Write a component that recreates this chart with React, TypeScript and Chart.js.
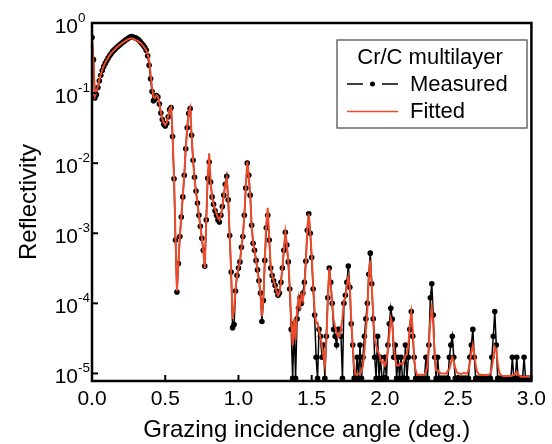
import React, { useEffect, useRef } from 'react';
import { Chart, registerables } from 'chart.js';

Chart.register(...registerables);

// Grazing incidence angle grid (deg.)
const ANGLE_START = 0;
const ANGLE_STEP = 0.01;

// Measured reflectivity, one value per 0.01 deg from 0.00 to 3.00
const MEASURED: number[] = [
  0.62, 0.30, 0.085, 0.095, 0.12, 0.15, 0.18, 0.21, 0.24, 0.265,
  0.29, 0.315, 0.34, 0.365, 0.39, 0.41, 0.43, 0.45, 0.47, 0.49,
  0.51, 0.53, 0.55, 0.57, 0.59, 0.61, 0.63, 0.64, 0.63, 0.62,
  0.61, 0.59, 0.57, 0.54, 0.51, 0.48, 0.45, 0.41, 0.34, 0.25,
  0.16, 0.105, 0.078, 0.082, 0.092, 0.088, 0.07, 0.052, 0.042, 0.036,
  0.034, 0.037, 0.046, 0.058, 0.062, 0.024, 6.0e-3, 8.0e-4, 1.45e-4, 3.7e-4,
  9.0e-4, 1.7e-3, 3.3e-3, 6.7e-3, 0.016, 0.032, 0.051, 0.060, 0.025, 0.011,
  6.3e-3, 4.0e-3, 2.7e-3, 1.8e-3, 1.26e-3, 8.5e-4, 5.7e-4, 3.4e-4, 1.55e-3, 6.1e-3,
  0.0104, 5.4e-3, 3.3e-3, 2.6e-3, 2.1e-3, 1.8e-3, 1.55e-3, 1.45e-3, 1.8e-3, 2.4e-3,
  3.5e-3, 5.0e-3, 6.5e-3, 3.0e-3, 9.3e-4, 2.8e-4, 4.5e-5, 5.0e-5, 1.5e-4, 2.5e-4,
  3.2e-4, 3.9e-4, 6.3e-4, 9.0e-4, 1.8e-3, 4.4e-3, 0.0100, 6.7e-3, 3.5e-3, 1.3e-3,
  7.2e-4, 5.7e-4, 4.1e-4, 3.0e-4, 2.1e-4, 1.4e-4, 5.5e-5, 1.1e-4, 4.1e-4, 1.2e-3,
  1.8e-3, 8.0e-4, 3.2e-4, 2.5e-4, 2.1e-4, 1.8e-4, 1.5e-4, 1.3e-4, 1.4e-4, 2.0e-4,
  3.2e-4, 5.7e-4, 1.03e-3, 6.8e-4, 3.9e-4, 1.6e-4, 4.25e-5, 8.5e-6, 5.1e-5, 8.5e-6,
  6.0e-5, 8.5e-5, 1.2e-4, 1.0e-4, 1.4e-4, 2.0e-4, 4.0e-4, 1.1e-3, 1.9e-3, 1.0e-3,
  4.5e-4, 1.6e-4, 6.8e-5, 1.7e-5, 8.5e-6, 4.25e-5, 3.4e-5, 1.7e-5, 2.55e-5, 8.5e-6,
  3.4e-5, 1.2e-4, 3.2e-4, 2.0e-4, 1.0e-4, 4.25e-5, 3.4e-5, 2.55e-5, 4.25e-5, 4.25e-5,
  3.4e-5, 8.5e-6, 1.0e-4, 1.3e-4, 2.0e-4, 3.4e-4, 1.7e-4, 5.1e-5, 2.55e-5, 8.5e-6,
  8.5e-6, 1.7e-5, 8.5e-6, 2.55e-5, 8.5e-6, 1.7e-5, 3.4e-5, 6.0e-5, 1.0e-4, 2.6e-4,
  5.2e-4, 1.9e-4, 6.0e-5, 1.7e-5, 8.5e-6, 3.4e-5, 8.5e-6, 1.7e-5, 8.5e-6, 8.5e-6,
  1.7e-5, 8.5e-6, 2.55e-5, 5.1e-5, 8.5e-5, 5.95e-5, 1.7e-5, 2.55e-5, 8.5e-6, 1.7e-5,
  8.5e-6, 1.7e-5, 8.5e-6, 8.5e-6, 2.55e-5, 8.5e-6, 1.7e-5, 4.25e-5, 7.65e-5, 3.4e-5,
  1.7e-5, 8.5e-6, 8.5e-6, 8.5e-6, 8.5e-6, 8.5e-6, 8.5e-6, 8.5e-6, 1.7e-5, 8.5e-6,
  2.55e-5, 1.2e-4, 1.9e-4, 6.8e-5, 1.7e-5, 8.5e-6, 1.7e-5, 8.5e-6, 8.5e-6, 8.5e-6,
  8.5e-6, 8.5e-6, 8.5e-6, 8.5e-6, 1.7e-5, 2.55e-5, 3.4e-5, 1.7e-5, 8.5e-6, 8.5e-6,
  8.5e-6, 8.5e-6, 8.5e-6, 8.5e-6, 8.5e-6, 8.5e-6, 8.5e-6, 8.5e-6, 1.7e-5, 2.55e-5,
  4.25e-5, 1.7e-5, 8.5e-6, 8.5e-6, 8.5e-6, 8.5e-6, 8.5e-6, 8.5e-6, 8.5e-6, 8.5e-6,
  8.5e-6, 8.5e-6, 8.5e-6, 1.7e-5, 3.4e-5, 7.65e-5, 2.55e-5, 8.5e-6, 8.5e-6, 8.5e-6,
  8.5e-6, 8.5e-6, 8.5e-6, 8.5e-6, 8.5e-6, 8.5e-6, 8.5e-6, 1.7e-5, 8.5e-6, 8.5e-6,
  1.7e-5, 8.5e-6, 8.5e-6, 8.5e-6, 8.5e-6, 1.7e-5, 8.5e-6, 8.5e-6, 8.5e-6, 8.5e-6,
  8.5e-6,
];

// Fitted reflectivity, same angle grid
const FITTED: number[] = [
  0.62, 0.28, 0.09, 0.10, 0.125, 0.155, 0.185, 0.215, 0.245, 0.27,
  0.295, 0.32, 0.345, 0.37, 0.39, 0.41, 0.43, 0.45, 0.47, 0.49,
  0.505, 0.525, 0.54, 0.56, 0.575, 0.59, 0.60, 0.60, 0.595, 0.585,
  0.57, 0.56, 0.54, 0.52, 0.50, 0.47, 0.44, 0.41, 0.36, 0.29,
  0.19, 0.12, 0.088, 0.085, 0.093, 0.090, 0.072, 0.054, 0.043, 0.037,
  0.035, 0.038, 0.047, 0.059, 0.063, 0.026, 6.5e-3, 9.0e-4, 1.5e-4, 3.8e-4,
  9.5e-4, 1.8e-3, 3.4e-3, 6.9e-3, 0.016, 0.033, 0.053, 0.062, 0.026, 0.011,
  6.0e-3, 3.9e-3, 2.7e-3, 1.8e-3, 1.25e-3, 8.5e-4, 5.5e-4, 3.2e-4, 1.5e-3, 6.3e-3,
  0.0138, 5.6e-3, 3.2e-3, 2.6e-3, 2.2e-3, 1.9e-3, 1.65e-3, 1.55e-3, 1.8e-3, 2.4e-3,
  3.5e-3, 5.0e-3, 6.1e-3, 3.0e-3, 9.5e-4, 2.9e-4, 6.0e-5, 8.0e-5, 1.6e-4, 2.5e-4,
  3.2e-4, 3.9e-4, 6.2e-4, 9.0e-4, 1.8e-3, 4.5e-3, 0.0105, 6.9e-3, 3.5e-3, 1.3e-3,
  7.2e-4, 5.6e-4, 4.1e-4, 3.0e-4, 2.1e-4, 1.4e-4, 6.5e-5, 1.2e-4, 4.3e-4, 1.4e-3,
  2.3e-3, 8.5e-4, 3.3e-4, 2.5e-4, 2.1e-4, 1.8e-4, 1.5e-4, 1.3e-4, 1.4e-4, 2.0e-4,
  3.2e-4, 5.8e-4, 1.03e-3, 7.0e-4, 3.9e-4, 1.8e-4, 6.0e-5, 2.5e-5, 6.0e-5, 3.0e-5,
  8.0e-5, 1.2e-4, 9.0e-5, 1.3e-4, 1.1e-4, 1.6e-4, 3.9e-4, 1.2e-3, 1.9e-3, 1.03e-3,
  4.9e-4, 1.8e-4, 8.0e-5, 5.2e-5, 5.3e-5, 4.1e-5, 3.2e-5, 2.5e-5, 1.8e-5, 1.3e-5,
  3.0e-5, 1.1e-4, 3.2e-4, 1.8e-4, 9.5e-5, 5.8e-5, 4.6e-5, 3.9e-5, 3.3e-5, 3.4e-5,
  4.4e-5, 6.1e-5, 1.1e-4, 1.2e-4, 1.8e-4, 2.4e-4, 1.8e-4, 5.8e-5, 2.5e-5, 1.2e-5,
  9.6e-6, 9.5e-6, 1.0e-5, 1.0e-5, 1.05e-5, 1.3e-5, 2.1e-5, 4.1e-5, 8.0e-5, 2.5e-4,
  4.1e-4, 1.8e-4, 6.7e-5, 3.0e-5, 2.5e-5, 2.1e-5, 1.9e-5, 1.6e-5, 1.4e-5, 1.5e-5,
  1.3e-5, 1.5e-5, 2.1e-5, 3.6e-5, 6.0e-5, 5.0e-5, 2.5e-5, 1.6e-5, 1.3e-5, 1.3e-5,
  1.35e-5, 1.4e-5, 1.35e-5, 1.5e-5, 1.8e-5, 1.9e-5, 2.5e-5, 4.9e-5, 7.3e-5, 4.1e-5,
  1.5e-5, 1.1e-5, 9.6e-6, 9.6e-6, 9.6e-6, 9.6e-6, 9.6e-6, 9.6e-6, 1.05e-5, 1.3e-5,
  2.5e-5, 5.8e-5, 8.6e-5, 4.9e-5, 1.8e-5, 1.1e-5, 1.1e-5, 1.05e-5, 1.0e-5, 1.0e-5,
  1.0e-5, 1.0e-5, 1.0e-5, 1.1e-5, 1.15e-5, 1.4e-5, 1.7e-5, 1.5e-5, 1.2e-5, 1.05e-5,
  1.0e-5, 1.0e-5, 9.8e-6, 1.0e-5, 1.02e-5, 1.0e-5, 1.0e-5, 1.1e-5, 1.4e-5, 2.0e-5,
  2.5e-5, 1.9e-5, 1.3e-5, 1.05e-5, 9.8e-6, 9.6e-6, 9.6e-6, 9.5e-6, 9.5e-6, 9.5e-6,
  9.5e-6, 9.6e-6, 1.0e-5, 1.2e-5, 1.7e-5, 2.4e-5, 2.2e-5, 1.4e-5, 1.05e-5, 9.5e-6,
  9.3e-6, 9.2e-6, 9.2e-6, 9.2e-6, 9.2e-6, 9.2e-6, 9.2e-6, 9.3e-6, 9.5e-6, 9.8e-6,
  1.05e-5, 9.8e-6, 9.2e-6, 9.0e-6, 9.0e-6, 9.0e-6, 9.0e-6, 9.0e-6, 9.0e-6, 9.0e-6,
  9.0e-6,
];

const X_TICKS = [0, 0.5, 1.0, 1.5, 2.0, 2.5, 3.0];
const Y_DECADES = [0, -1, -2, -3, -4, -5];
const X_MIN = 0;
const X_MAX = 3;
const Y_MIN = 7.8e-6;
const Y_MAX = 1;

const X_TITLE = 'Grazing incidence angle (deg.)';
const Y_TITLE = 'Reflectivity';
const LEGEND_TITLE = 'Cr/C multilayer';
const SERIES_NAMES = ['Measured', 'Fitted'];

const FONT = '"Liberation Sans", Arial, Helvetica, sans-serif';
const RED = '#EE4B2B';

const decorPlugin = {
  id: 'decor',
  afterDatasetsDraw(chart: any) {
    const { ctx, chartArea: a, scales } = chart;
    const xs = scales.x;
    const ys = scales.y;
    ctx.save();
    ctx.fillStyle = '#000';
    ctx.strokeStyle = '#000';

    // frame
    ctx.lineWidth = 2.5;
    ctx.strokeRect(a.left, a.top, a.right - a.left, a.bottom - a.top);

    // inward ticks
    ctx.lineWidth = 2;
    X_TICKS.forEach((v) => {
      const px = xs.getPixelForValue(v);
      ctx.beginPath();
      ctx.moveTo(px, a.bottom);
      ctx.lineTo(px, a.bottom - 6);
      ctx.stroke();
    });
    Y_DECADES.forEach((d) => {
      const py = ys.getPixelForValue(Math.pow(10, d));
      ctx.beginPath();
      ctx.moveTo(a.left, py);
      ctx.lineTo(a.left + 6, py);
      ctx.stroke();
    });

    // y tick labels 10^n
    Y_DECADES.forEach((d) => {
      const py = ys.getPixelForValue(Math.pow(10, d));
      ctx.font = `21px ${FONT}`;
      ctx.textAlign = 'right';
      ctx.textBaseline = 'alphabetic';
      ctx.fillText('10', 78, py + 9.5);
      ctx.font = `13.5px ${FONT}`;
      ctx.textAlign = 'left';
      ctx.fillText(String(d), 78, py - 1.5);
    });

    // axis titles
    ctx.font = `24px ${FONT}`;
    ctx.textAlign = 'center';
    ctx.textBaseline = 'alphabetic';
    ctx.fillText(X_TITLE, (a.left + a.right) / 2 - 5, 437);
    ctx.save();
    ctx.translate(36, (a.top + a.bottom) / 2);
    ctx.rotate(-Math.PI / 2);
    ctx.fillText(Y_TITLE, 0, 0);
    ctx.restore();

    // legend
    const bx = 337, by = 40, bw = 190, bh = 88;
    ctx.fillStyle = '#fff';
    ctx.fillRect(bx, by, bw, bh);
    ctx.strokeStyle = '#444';
    ctx.lineWidth = 1.2;
    ctx.strokeRect(bx, by, bw, bh);
    ctx.fillStyle = '#000';
    ctx.font = `22px ${FONT}`;
    ctx.textAlign = 'center';
    ctx.fillText(LEGEND_TITLE, 430, 63.5);
    ctx.textAlign = 'left';
    ctx.fillText(SERIES_NAMES[0], 410, 91);
    ctx.fillText(SERIES_NAMES[1], 410, 118);
    // measured symbol
    ctx.strokeStyle = '#000';
    ctx.lineWidth = 1.3;
    ctx.beginPath();
    ctx.moveTo(347, 84); ctx.lineTo(363, 84);
    ctx.moveTo(382, 84); ctx.lineTo(398, 84);
    ctx.stroke();
    ctx.beginPath();
    ctx.arc(372.5, 84, 2.5, 0, Math.PI * 2);
    ctx.fill();
    // fitted symbol
    ctx.strokeStyle = RED;
    ctx.lineWidth = 1.5;
    ctx.beginPath();
    ctx.moveTo(347, 111.5); ctx.lineTo(398, 111.5);
    ctx.stroke();

    ctx.restore();
  },
};

export default function App() {
  const canvasRef = useRef<HTMLCanvasElement | null>(null);

  useEffect(() => {
    const canvas = canvasRef.current;
    if (!canvas) return;
    const toPoints = (arr: number[]) =>
      arr.map((v, i) => ({ x: ANGLE_START + i * ANGLE_STEP, y: v }));

    const chart = new Chart(canvas, {
      type: 'line',
      data: {
        datasets: [
          {
            label: SERIES_NAMES[1],
            data: toPoints(FITTED),
            borderColor: RED,
            borderWidth: 2,
            pointRadius: 0,
            tension: 0,
            order: 0,
          },
          {
            label: SERIES_NAMES[0],
            data: toPoints(MEASURED),
            borderColor: '#000',
            borderWidth: 1.5,
            pointRadius: 2.8,
            pointBackgroundColor: '#000',
            pointBorderWidth: 0,
            tension: 0,
            order: 1,
          },
        ],
      },
      options: {
        responsive: false,
        animation: false,
        events: [],
        devicePixelRatio: 1,
        layout: { padding: { top: 23, right: 19, left: 0, bottom: 0 } },
        plugins: { legend: { display: false }, tooltip: { enabled: false } },
        scales: {
          x: {
            type: 'linear',
            min: X_MIN,
            max: X_MAX,
            grid: { display: false, drawTicks: false },
            border: { display: false },
            afterBuildTicks: (scale: any) => {
              scale.ticks = X_TICKS.map((v) => ({ value: v }));
            },
            afterFit: (scale: any) => {
              scale.height = 63;
            },
            ticks: {
              autoSkip: false,
              maxRotation: 0,
              padding: 6,
              color: '#000',
              font: { family: FONT, size: 21 },
              callback: (v: any) => Number(v).toFixed(1),
            },
          },
          y: {
            type: 'logarithmic',
            min: Y_MIN,
            max: Y_MAX,
            grid: { display: false, drawTicks: false },
            border: { display: false },
            ticks: { display: false },
            afterFit: (scale: any) => {
              scale.width = 92;
            },
          },
        },
      },
      plugins: [decorPlugin],
    } as any);

    return () => chart.destroy();
  }, []);

  return (
    <div style={{ position: 'absolute', left: 0, top: 0, width: 552, height: 444, background: '#fff' }}>
      <canvas ref={canvasRef} width={552} height={444} style={{ display: 'block' }} />
    </div>
  );
}
